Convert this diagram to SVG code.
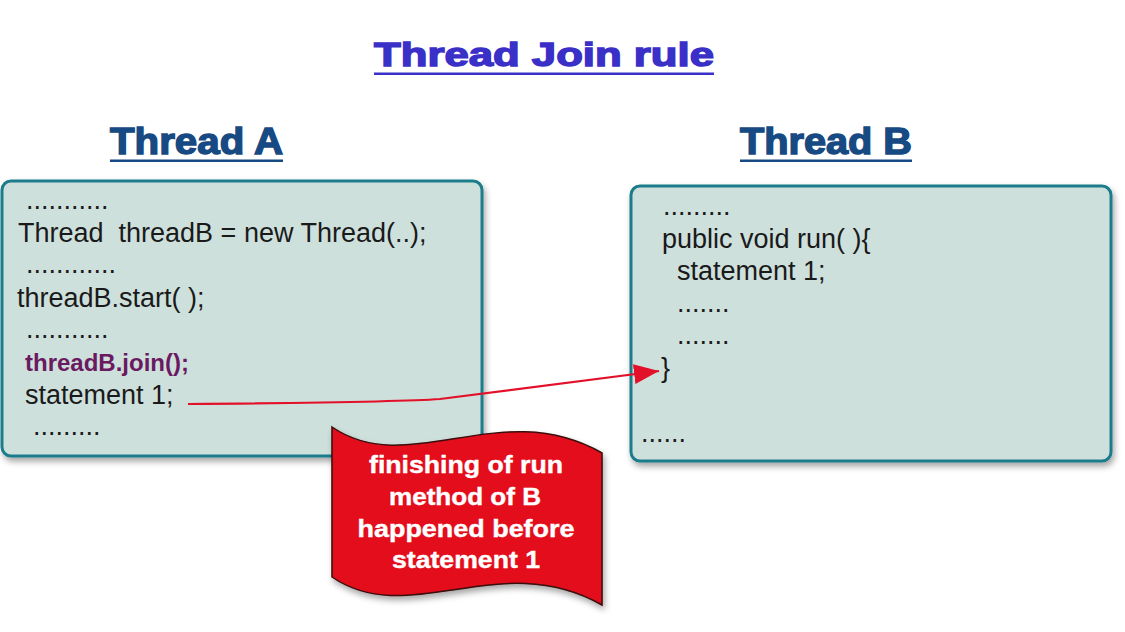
<svg xmlns="http://www.w3.org/2000/svg" width="1125" height="632" viewBox="0 0 1125 632">
  <defs>
    <filter id="shadow" x="-10%" y="-10%" width="120%" height="130%">
      <feDropShadow dx="2" dy="4" stdDeviation="3" flood-color="#000" flood-opacity="0.35"/>
    </filter>
    <marker id="arrow" markerUnits="userSpaceOnUse" markerWidth="28" markerHeight="22" refX="25" refY="10" orient="auto">
      <path d="M0,0 L25,10 L0,20 Z" fill="#e3102a"/>
    </marker>
    <style>
      .title { font-family: "Liberation Sans", Arial, sans-serif; font-weight: bold; fill: #3a30c8; stroke: #3a30c8; stroke-width: 1.4; }
      .head { font-family: "Liberation Sans", Arial, sans-serif; font-weight: bold; fill: #174a82; stroke: #174a82; stroke-width: 1.4; }
      .box { fill: #cee0dc; stroke: #1b7c8c; stroke-width: 3; }
      .code { font-family: "Liberation Sans", Arial, sans-serif; font-size: 27px; fill: #1a1a1a; }
      .join { font-family: "Liberation Sans", Arial, sans-serif; font-size: 24px; font-weight: bold; fill: #6a1a60; }
      .note { font-family: "Liberation Sans", Arial, sans-serif; font-size: 24px; font-weight: bold; fill: #ffffff; stroke: #ffffff; stroke-width: 0.4; text-anchor: middle; }
      .link { fill: none; stroke: #e3102a; stroke-width: 2.2; }
    </style>
  </defs>

  <rect width="1125" height="632" fill="#ffffff"/>

  <!-- headings -->
  <g id="title">
    <text class="title" x="374" y="66" font-size="33" textLength="340" lengthAdjust="spacingAndGlyphs">Thread Join rule</text>
    <rect x="374" y="72.5" width="340" height="2.5" fill="#3a30c8"/>
  </g>
  <g id="heading-a">
    <text class="head" x="110" y="154" font-size="36" textLength="173" lengthAdjust="spacingAndGlyphs">Thread A</text>
    <rect x="110" y="159.5" width="173" height="2.5" fill="#174a82"/>
  </g>
  <g id="heading-b">
    <text class="head" x="740" y="154" font-size="36" textLength="172" lengthAdjust="spacingAndGlyphs">Thread B</text>
    <rect x="740" y="159.5" width="172" height="2.5" fill="#174a82"/>
  </g>

  <!-- Thread A code box -->
  <g id="thread-a">
    <rect class="box" x="2" y="181" width="480" height="275" rx="9" filter="url(#shadow)"/>
    <text class="code" x="26" y="209">...........</text>
    <text class="code" x="18" y="242" xml:space="preserve">Thread  threadB = new Thread(..);</text>
    <text class="code" x="26" y="273">............</text>
    <text class="code" x="17" y="307">threadB.start( );</text>
    <text class="code" x="26" y="338">...........</text>
    <text class="join" x="25" y="371">threadB.join();</text>
    <text class="code" x="25" y="404">statement 1;</text>
    <text class="code" x="33" y="435">.........</text>
  </g>

  <!-- Thread B code box -->
  <g id="thread-b">
    <rect class="box" x="631" y="186" width="480" height="275" rx="9" filter="url(#shadow)"/>
    <text class="code" x="663" y="215">.........</text>
    <text class="code" x="662" y="248">public void run( ){</text>
    <text class="code" x="677" y="280">statement 1;</text>
    <text class="code" x="677" y="312">.......</text>
    <text class="code" x="677" y="344">.......</text>
    <text class="code" x="661" y="377">}</text>
    <text class="code" x="641" y="442">......</text>
  </g>

  <!-- connector -->
  <g id="connectors">
    <path class="link" d="M188,404 C300,403 400,402 440,399 L659,371" marker-end="url(#arrow)"/>
  </g>

  <!-- callout banner -->
  <g id="note">
    <path d="M332,427 C410,480 500,395 602,453 L602,605 C500,547 410,630 332,577 Z" fill="#e3101f" stroke="#3a0808" stroke-width="1.5" filter="url(#shadow)"/>
    <text class="note" x="466" y="473" textLength="194" lengthAdjust="spacingAndGlyphs">finishing of run</text>
    <text class="note" x="465" y="505" textLength="152" lengthAdjust="spacingAndGlyphs">method of B</text>
    <text class="note" x="466" y="537" textLength="217" lengthAdjust="spacingAndGlyphs">happened before</text>
    <text class="note" x="466" y="568" textLength="148" lengthAdjust="spacingAndGlyphs">statement 1</text>
  </g>
</svg>
